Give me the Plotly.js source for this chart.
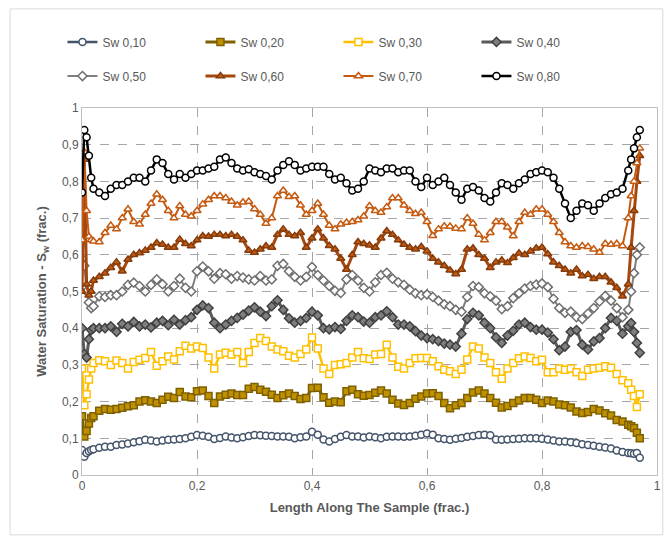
<!DOCTYPE html>
<html>
<head>
<meta charset="utf-8">
<script src="https://cdn.plot.ly/plotly-3.0.1.min.js"></script>
<style>html,body{margin:0;padding:0;background:#fff;}#chart{width:667px;height:542px;}</style>
</head>
<body>
<div id="chart"></div>
<script>
const seriesNames = ["Sw 0,10","Sw 0,20","Sw 0,30","Sw 0,40","Sw 0,50","Sw 0,60","Sw 0,70","Sw 0,80"];
const xTickVals = [0,0.2,0.4,0.6,0.8,1];
const yTickVals = [0,0.1,0.2,0.3,0.4,0.5,0.6,0.7,0.8,0.9,1];

const xPos = [0,0.004,0.008,0.012,0.016,0.02,
0.03,0.04,0.05,0.06,0.07,0.08,0.09,
0.10,0.11,0.12,0.13,0.14,0.15,0.16,0.17,0.18,0.19,
0.20,0.21,0.22,0.23,0.24,0.25,0.26,0.27,0.28,0.29,
0.30,0.31,0.32,0.33,0.34,0.35,0.36,0.37,0.38,0.39,
0.40,0.41,0.42,0.43,0.44,0.45,0.46,0.47,0.48,0.49,
0.50,0.51,0.52,0.53,0.54,0.55,0.56,0.57,0.58,0.59,
0.60,0.61,0.62,0.63,0.64,0.65,0.66,0.67,0.68,0.69,
0.70,0.71,0.72,0.73,0.74,0.75,0.76,0.77,0.78,0.79,
0.80,0.81,0.82,0.83,0.84,0.85,0.86,0.87,0.88,0.89,
0.90,0.91,0.92,0.93,0.94,
0.95,0.955,0.96,0.965,0.97];

const sw10 = [0.068,0.05,0.06,0.065,0.068,0.07,
0.074,0.077,0.077,0.082,0.083,0.086,0.089,
0.092,0.096,0.094,0.091,0.094,0.096,0.097,0.098,0.10,0.104,
0.109,0.107,0.104,0.098,0.101,0.105,0.102,0.10,0.103,0.106,
0.109,0.108,0.107,0.106,0.105,0.105,0.104,0.10,0.103,0.105,
0.118,0.11,0.097,0.091,0.098,0.104,0.109,0.105,0.105,0.102,
0.105,0.103,0.10,0.104,0.105,0.105,0.104,0.105,0.107,0.11,
0.113,0.11,0.10,0.098,0.096,0.099,0.101,0.104,0.106,0.109,
0.11,0.108,0.097,0.096,0.097,0.098,0.099,0.10,0.10,0.10,
0.099,0.097,0.094,0.091,0.091,0.089,0.087,0.084,0.082,0.08,
0.077,0.075,0.072,0.067,0.063,
0.06,0.059,0.058,0.06,0.047];

const sw20 = [0.16,0.105,0.12,0.14,0.155,0.16,
0.175,0.18,0.178,0.18,0.183,0.187,0.19,
0.20,0.204,0.20,0.196,0.205,0.213,0.21,0.226,0.214,0.212,
0.228,0.23,0.215,0.196,0.214,0.219,0.222,0.218,0.218,0.235,
0.24,0.232,0.227,0.219,0.21,0.217,0.222,0.215,0.207,0.21,
0.237,0.238,0.212,0.197,0.20,0.198,0.228,0.232,0.22,0.216,
0.218,0.224,0.23,0.222,0.205,0.195,0.191,0.196,0.208,0.214,
0.222,0.223,0.215,0.196,0.182,0.19,0.196,0.21,0.225,0.23,
0.222,0.21,0.197,0.184,0.188,0.196,0.203,0.21,0.21,0.205,
0.196,0.203,0.20,0.192,0.19,0.184,0.173,0.169,0.172,0.18,
0.176,0.168,0.162,0.15,0.146,
0.137,0.133,0.128,0.115,0.10];

const sw30 = [0.29,0.19,0.22,0.26,0.29,0.305,
0.313,0.31,0.30,0.312,0.305,0.29,0.308,
0.314,0.319,0.335,0.298,0.31,0.323,0.315,0.337,0.352,0.345,
0.35,0.346,0.32,0.29,0.328,0.333,0.328,0.335,0.305,0.335,
0.36,0.373,0.365,0.35,0.342,0.337,0.325,0.32,0.33,0.342,
0.375,0.345,0.29,0.275,0.30,0.302,0.305,0.32,0.335,0.318,
0.316,0.328,0.33,0.355,0.32,0.295,0.29,0.305,0.318,0.319,
0.319,0.31,0.296,0.287,0.283,0.275,0.287,0.315,0.35,0.345,
0.32,0.305,0.28,0.262,0.29,0.305,0.318,0.323,0.319,0.31,
0.314,0.28,0.28,0.29,0.287,0.29,0.28,0.27,0.287,0.29,
0.292,0.296,0.292,0.275,0.258,
0.25,0.232,0.215,0.185,0.22];

const sw40 = [0.40,0.33,0.32,0.37,0.395,0.40,
0.40,0.40,0.405,0.39,0.412,0.405,0.417,
0.405,0.41,0.402,0.415,0.42,0.408,0.423,0.41,0.422,0.43,
0.45,0.462,0.455,0.415,0.40,0.41,0.42,0.428,0.437,0.448,
0.457,0.445,0.433,0.46,0.476,0.45,0.427,0.415,0.42,0.428,
0.445,0.435,0.40,0.397,0.403,0.398,0.42,0.435,0.43,0.418,
0.415,0.43,0.435,0.446,0.43,0.41,0.41,0.405,0.392,0.38,
0.373,0.37,0.365,0.358,0.355,0.35,0.385,0.425,0.442,0.435,
0.415,0.40,0.375,0.36,0.38,0.393,0.41,0.415,0.403,0.396,
0.396,0.388,0.37,0.34,0.35,0.39,0.395,0.355,0.342,0.364,
0.373,0.40,0.428,0.42,0.385,
0.405,0.414,0.39,0.36,0.333];

const sw50 = [0.59,0.57,0.50,0.47,0.455,0.46,
0.487,0.485,0.49,0.49,0.50,0.518,0.524,
0.515,0.50,0.518,0.533,0.52,0.50,0.515,0.535,0.51,0.50,
0.555,0.568,0.555,0.535,0.55,0.547,0.535,0.542,0.538,0.533,
0.53,0.542,0.53,0.533,0.57,0.575,0.555,0.54,0.53,0.54,
0.567,0.545,0.53,0.515,0.502,0.496,0.533,0.545,0.53,0.51,
0.50,0.525,0.545,0.551,0.535,0.525,0.518,0.505,0.495,0.49,
0.492,0.485,0.475,0.465,0.46,0.45,0.445,0.485,0.515,0.512,
0.495,0.487,0.475,0.452,0.46,0.482,0.495,0.508,0.515,0.519,
0.522,0.512,0.48,0.455,0.442,0.445,0.43,0.425,0.44,0.455,
0.473,0.488,0.475,0.455,0.43,
0.45,0.50,0.55,0.60,0.62];

const sw60 = [0.50,0.86,0.52,0.49,0.50,0.53,
0.54,0.55,0.565,0.58,0.555,0.587,0.60,
0.605,0.612,0.62,0.632,0.628,0.62,0.62,0.642,0.63,0.624,
0.64,0.651,0.65,0.655,0.655,0.651,0.655,0.65,0.64,0.612,
0.606,0.615,0.624,0.62,0.655,0.67,0.655,0.651,0.66,0.62,
0.645,0.67,0.645,0.625,0.615,0.59,0.56,0.60,0.635,0.63,
0.626,0.62,0.645,0.665,0.655,0.64,0.628,0.62,0.615,0.622,
0.61,0.59,0.58,0.57,0.558,0.548,0.56,0.615,0.618,0.60,
0.59,0.565,0.58,0.585,0.578,0.592,0.604,0.60,0.61,0.618,
0.62,0.602,0.58,0.57,0.56,0.55,0.56,0.542,0.546,0.535,
0.54,0.54,0.525,0.51,0.487,
0.52,0.62,0.72,0.80,0.87];

const sw70 = [0.64,0.88,0.72,0.65,0.64,0.637,
0.635,0.66,0.68,0.67,0.70,0.724,0.69,
0.683,0.71,0.74,0.765,0.75,0.72,0.70,0.733,0.71,0.705,
0.72,0.738,0.75,0.76,0.76,0.755,0.745,0.735,0.743,0.745,
0.725,0.71,0.685,0.70,0.76,0.775,0.758,0.76,0.735,0.71,
0.72,0.74,0.71,0.68,0.67,0.683,0.688,0.69,0.695,0.705,
0.733,0.72,0.715,0.73,0.755,0.755,0.735,0.72,0.712,0.715,
0.69,0.652,0.67,0.678,0.677,0.672,0.67,0.70,0.685,0.655,
0.64,0.66,0.69,0.69,0.675,0.651,0.69,0.715,0.71,0.724,
0.724,0.71,0.69,0.66,0.635,0.624,0.62,0.624,0.622,0.615,
0.606,0.63,0.628,0.63,0.624,
0.70,0.76,0.80,0.85,0.89];

const sw80 = [0.77,0.94,0.92,0.87,0.81,0.78,
0.77,0.76,0.78,0.79,0.79,0.80,0.81,
0.81,0.80,0.83,0.86,0.85,0.82,0.805,0.82,0.81,0.82,
0.83,0.83,0.835,0.84,0.86,0.865,0.85,0.835,0.83,0.833,
0.825,0.82,0.815,0.805,0.83,0.845,0.855,0.845,0.83,0.835,
0.84,0.84,0.84,0.82,0.805,0.81,0.795,0.775,0.78,0.80,
0.835,0.83,0.825,0.835,0.835,0.825,0.83,0.83,0.80,0.785,
0.81,0.79,0.80,0.81,0.79,0.77,0.75,0.78,0.785,0.775,
0.755,0.745,0.77,0.795,0.79,0.78,0.795,0.805,0.82,0.825,
0.83,0.825,0.81,0.78,0.74,0.70,0.72,0.74,0.735,0.72,
0.74,0.755,0.765,0.77,0.78,
0.83,0.86,0.89,0.92,0.94];

const seriesValues = [sw10, sw20, sw30, sw40, sw50, sw60, sw70, sw80];

const styles = [
  {line:'#44546A', symbol:'circle', fill:'#FFFFFF', edge:'#44546A', lw:2.5},
  {line:'#7F6000', symbol:'square', fill:'#BF9000', edge:'#7F6000', lw:3},
  {line:'#FFC000', symbol:'square', fill:'#FFFFFF', edge:'#FFC000', lw:2.5},
  {line:'#595959', symbol:'diamond', fill:'#7F7F7F', edge:'#404040', lw:3},
  {line:'#7F7F7F', symbol:'diamond', fill:'#FFFFFF', edge:'#6F6F6F', lw:2},
  {line:'#A5470F', symbol:'triangle-up', fill:'#C55A11', edge:'#843C0C', lw:3},
  {line:'#C55A11', symbol:'triangle-up', fill:'#FFFFFF', edge:'#C55A11', lw:2},
  {line:'#000000', symbol:'circle', fill:'#FFFFFF', edge:'#000000', lw:2.5}
];

const traces = seriesNames.map((name, i) => ({
  type: 'scatter',
  mode: 'lines+markers',
  name: name,
  x: xPos,
  y: seriesValues[i],
  legend: i < 4 ? 'legend' : 'legend2',
  line: {color: styles[i].line, width: styles[i].lw},
  marker: {symbol: styles[i].symbol, size: 7, color: styles[i].fill,
           line: {color: styles[i].edge, width: 1.5}}
}));

const font = {family: 'Liberation Sans, Arial, sans-serif', color: '#595959', size: 12};
const legendCommon = {
  orientation: 'h', xanchor: 'left', yanchor: 'middle', x: -0.034,
  bgcolor: 'rgba(0,0,0,0)', borderwidth: 0,
  font: {family: font.family, color: '#595959', size: 12},
  entrywidth: 93, entrywidthmode: 'pixels', itemwidth: 30, traceorder: 'normal'
};

const layout = {
  width: 667, height: 542,
  margin: {l: 82, r: 10, t: 108, b: 67},
  paper_bgcolor: '#FFFFFF', plot_bgcolor: '#FFFFFF',
  separators: ',.',
  font: font,
  showlegend: true,
  legend: Object.assign({}, legendCommon, {y: 1.18}),
  legend2: Object.assign({}, legendCommon, {y: 1.087}),
  xaxis: {
    range: [0, 1], tickvals: xTickVals, ticks: '', showline: true, mirror: true,
    linecolor: '#BFBFBF', linewidth: 1, showgrid: true, gridcolor: '#A6A6A6',
    griddash: 'dash', gridwidth: 1, zeroline: false,
    tickfont: {family: font.family, color: '#595959', size: 12},
    title: {text: '<b>Length Along The Sample (frac.)</b>', standoff: 10,
            font: {family: font.family, color: '#595959', size: 13}}
  },
  yaxis: {
    range: [0, 1], tickvals: yTickVals, ticks: '', showline: true, mirror: true,
    linecolor: '#BFBFBF', linewidth: 1, showgrid: true, gridcolor: '#A6A6A6',
    griddash: 'dash', gridwidth: 1, zeroline: false,
    tickfont: {family: font.family, color: '#595959', size: 12},
    title: {text: '<b>Water Saturation - S<sub>w</sub> (frac.)</b>', standoff: 12,
            font: {family: font.family, color: '#595959', size: 13}}
  },
  shapes: [{
    type: 'rect', xref: 'paper', yref: 'paper',
    x0: -0.125, x1: 1.01, y0: -0.163, y1: 1.27,
    line: {color: '#D9D9D9', width: 1}, fillcolor: 'rgba(0,0,0,0)', layer: 'below'
  }]
};

Plotly.newPlot('chart', traces, layout, {staticPlot: true, displayModeBar: false});
</script>
</body>
</html>
